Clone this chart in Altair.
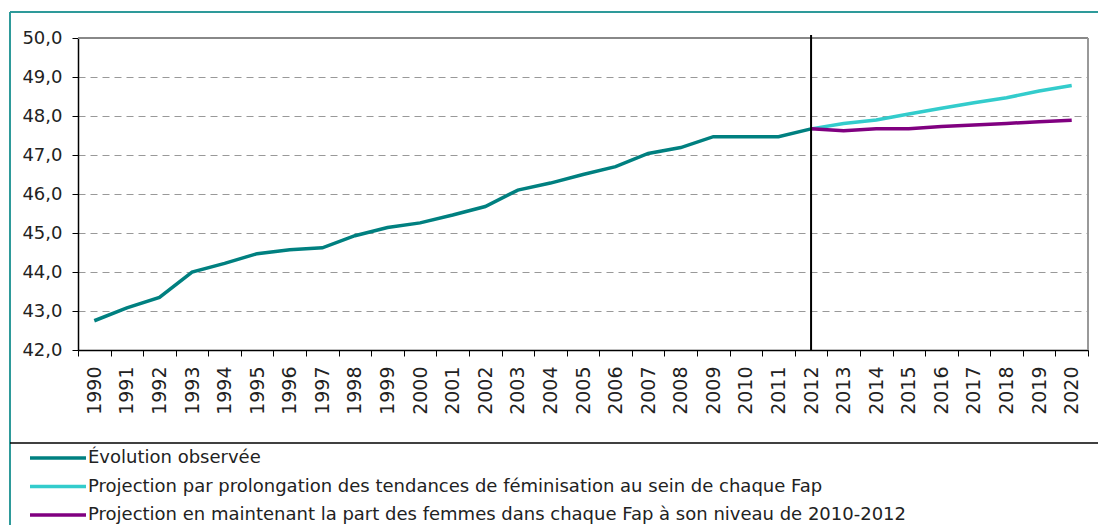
import altair as alt
import pandas as pd

years = list(range(1990, 2021))
observed_years = list(range(1990, 2013))
observed = [42.75, 43.08, 43.35, 44.00, 44.22, 44.47, 44.57, 44.62, 44.93, 45.14,
            45.26, 45.46, 45.68, 46.10, 46.28, 46.50, 46.70, 47.04, 47.19, 47.47,
            47.47, 47.47, 47.67]
proj_years = list(range(2012, 2021))
proj_trend = [47.67, 47.81, 47.90, 48.05, 48.20, 48.34, 48.47, 48.64, 48.78]
proj_const = [47.67, 47.62, 47.67, 47.67, 47.73, 47.77, 47.81, 47.85, 47.89]

series_names = [
    "Évolution observée",
    "Projection par prolongation des tendances de féminisation au sein de chaque Fap",
    "Projection en maintenant la part des femmes dans chaque Fap à son niveau de 2010-2012",
]
series_colors = ["#008080", "#33CCCC", "#800080"]

rows = []
for y, v in zip(observed_years, observed):
    rows.append({"year": str(y), "value": v, "series": series_names[0]})
for y, v in zip(proj_years, proj_trend):
    rows.append({"year": str(y), "value": v, "series": series_names[1]})
for y, v in zip(proj_years, proj_const):
    rows.append({"year": str(y), "value": v, "series": series_names[2]})
df = pd.DataFrame(rows)

W, H = 1010, 312
FONT = "DejaVu Sans"

xscale = alt.Scale(type="band", domain=[str(y) for y in years], paddingInner=0, paddingOuter=0)
yscale = alt.Scale(domain=[42, 50], nice=False, zero=False)

x_axis = alt.Axis(title=None, labelAngle=-90, labelAlign="right", labelBaseline="middle",
                  labelFont=FONT, labelFontSize=19, labelColor="#222", labelPadding=10,
                  tickBand="extent", tickSize=6, tickColor="#000", domainColor="#000",
                  domainWidth=1.5, tickWidth=1, grid=False, labelOverlap=False)
y_axis = alt.Axis(title=None, values=list(range(42, 51)), tickCount=9,
                  labelExpr="replace(format(datum.value, '.1f'), '.', ',')",
                  labelFont=FONT, labelFontSize=18, labelColor="#222", labelPadding=10,
                  labelOverlap=False,
                  tickSize=6, tickColor="#000", domainColor="#000", domainWidth=1.5,
                  grid=True, gridColor="#999", gridDash=[7, 5], gridWidth=1)

one = pd.DataFrame({"a": [0]})
layers = []

for i, name in enumerate(series_names):
    layers.append(
        alt.Chart(df[df.series == name]).mark_line(color=series_colors[i], strokeWidth=3.5).encode(
            x=alt.X("year:O", scale=xscale, bandPosition=0.5, axis=x_axis),
            y=alt.Y("value:Q", scale=yscale, axis=y_axis),
        )
    )

# top and right plot border (gray)
layers.append(alt.Chart(one).mark_rule(color="#888", strokeWidth=2).encode(
    x=alt.value(0), x2=alt.value(W), y=alt.value(0)))
layers.append(alt.Chart(one).mark_rule(color="#999", strokeWidth=2).encode(
    x=alt.value(W), y=alt.value(0), y2=alt.value(H)))

# vertical separator at 2012
sep = pd.DataFrame({"year": ["2012"]})
layers.append(alt.Chart(sep).mark_rule(color="#000", strokeWidth=2).encode(
    x=alt.X("year:O", scale=xscale, bandPosition=0.5, axis=x_axis),
    y=alt.value(-3), y2=alt.value(H)))

# outer frame
layers.append(alt.Chart(one).mark_rule(color="#2E9A9A", strokeWidth=2).encode(
    x=alt.value(-68), y=alt.value(-26), y2=alt.value(H + 180)))
layers.append(alt.Chart(one).mark_rule(color="#2E9A9A", strokeWidth=2).encode(
    x=alt.value(-68), x2=alt.value(W + 12), y=alt.value(-26)))
# legend divider
layers.append(alt.Chart(one).mark_rule(color="#000", strokeWidth=1.5).encode(
    x=alt.value(-68), x2=alt.value(W + 12), y=alt.value(405)))

# legend
for i, name in enumerate(series_names):
    ly = 420 + i * 28.5
    layers.append(alt.Chart(one).mark_rule(color=series_colors[i], strokeWidth=3.5).encode(
        x=alt.value(-48), x2=alt.value(8), y=alt.value(ly)))
    layers.append(alt.Chart(pd.DataFrame({"t": [name]})).mark_text(
        align="left", baseline="middle", font=FONT, fontSize=18, color="#222").encode(
        x=alt.value(10), y=alt.value(ly), text="t:N"))

chart = alt.layer(*layers).properties(
    width=W, height=H,
    autosize=alt.AutoSizeParams(type="none"),
    padding={"left": 70, "top": 30, "right": 10, "bottom": 175},
).configure_view(stroke=None).configure(background="white")

chart.save("out.html", embed_options={"renderer": "svg", "actions": False})
